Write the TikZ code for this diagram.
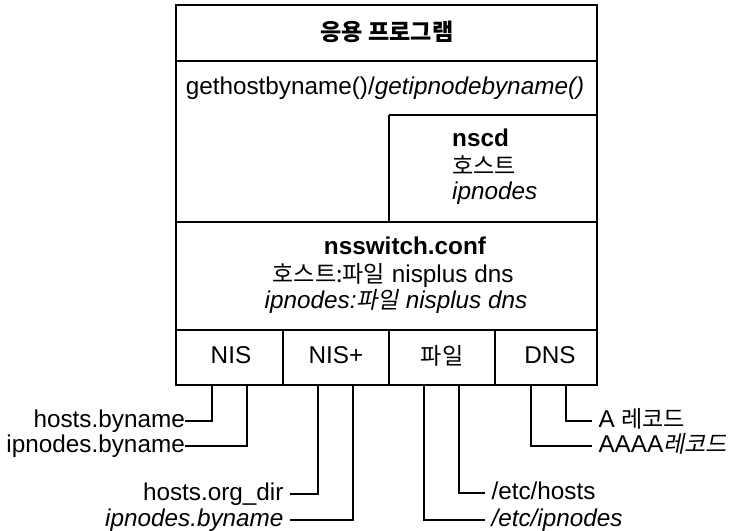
\documentclass[tikz,border=0pt]{standalone}
\usepackage{fontspec}
\setmainfont{Liberation Sans}
\newfontfamily\kr[Scale=0.95]{Noto Sans CJK KR}
\newfontfamily\krit[Scale=0.95,FakeSlant=0.2]{Noto Sans CJK KR}
\newcommand\basefs{\fontsize{24.3}{28}\selectfont}
\begin{document}
\begin{tikzpicture}[x=1pt,y=-1pt,
  frame/.style={draw,line width=1.3pt},
  lead/.style={draw,line width=1.2pt},
  lbl/.style={inner sep=0pt,text height=17.5pt,text depth=5pt,font=\basefs},
  gap/.style={outer xsep=6.5pt}]
\useasboundingbox (0,0) rectangle (733,530);

% outer frame and its horizontal dividers
\draw[frame] (176,5) rectangle (597,385);
\draw[frame] (176,61) -- (597,61);
\draw[frame] (176,222) -- (597,222);
\draw[frame] (176,330) -- (597,330);
% nscd box
\draw[frame] (389,115) -- (597,115);
\draw[frame] (389,115) -- (389,222);
% service cells
\draw[frame] (283,330) -- (283,385);
\draw[frame] (389,330) -- (389,385);
\draw[frame] (495,330) -- (495,385);

% texts inside the frame
\node[lbl] (title) at (387,34) {\kr\bfseries 응용 프로그램};
\node[lbl] (api) at (385,88) {gethostbyname()/\textit{getipnodebyname()}};
\node[lbl,anchor=west] (nscd) at (452,140) {\textbf{nscd}};
\node[lbl,anchor=west] (nscdh) at (452,168) {\kr 호스트};
\node[lbl,anchor=west] (nscdi) at (452,193) {\textit{ipnodes}};
\node[lbl] (nss) at (405,248) {\textbf{nsswitch.conf}};
\node[lbl] (nssh) at (393,276) {{\kr 호스트:파일} nisplus dns};
\node[lbl] (nssi) at (396,302) {\textit{ipnodes:}{\krit 파일} \textit{nisplus dns}};

\node[lbl] (nis) at (231,357) {NIS};
\node[lbl] (nisp) at (336,357) {NIS+};
\node[lbl] (file) at (442,358) {\kr 파일};
\node[lbl] (dns) at (550,357) {DNS};

% drop points under the service cells
\coordinate (nisA) at (212,385);
\coordinate (nisB) at (247,385);
\coordinate (nispA) at (318,385);
\coordinate (nispB) at (353,385);
\coordinate (fileA) at (424,385);
\coordinate (fileB) at (459,385);
\coordinate (dnsA) at (531,385);
\coordinate (dnsB) at (566,385);

% data sources
\node[lbl,anchor=east] (hb) at (185,421) {hosts.byname};
\node[lbl,anchor=east] (ib) at (185,446) {ipnodes.byname};
\node[lbl,gap,anchor=east] (hod) at (290,494) {hosts.org\_dir};
\node[lbl,gap,anchor=east] (ipb) at (290,520) {\textit{ipnodes.byname}};
\node[lbl,gap,anchor=west] (eh) at (485,493) {/etc/hosts};
\node[lbl,gap,anchor=west] (ei) at (485,520) {\textit{/etc/ipnodes}};
\node[lbl,gap,anchor=west] (ar) at (592,421) {A {\kr 레코드}};
\node[lbl,gap,anchor=west] (aaaar) at (592,446) {AAAA{\krit 레코드}};

% leader lines
\draw[lead] (nisA) |- (hb.east);
\draw[lead] (nisB) |- (ib.east);
\draw[lead] (nispA) |- (hod.east);
\draw[lead] (nispB) |- (ipb.east);
\draw[lead] (fileB) |- (eh.west);
\draw[lead] (fileA) |- (ei.west);
\draw[lead] (dnsB) |- (ar.west);
\draw[lead] (dnsA) |- (aaaar.west);
\end{tikzpicture}
\end{document}
